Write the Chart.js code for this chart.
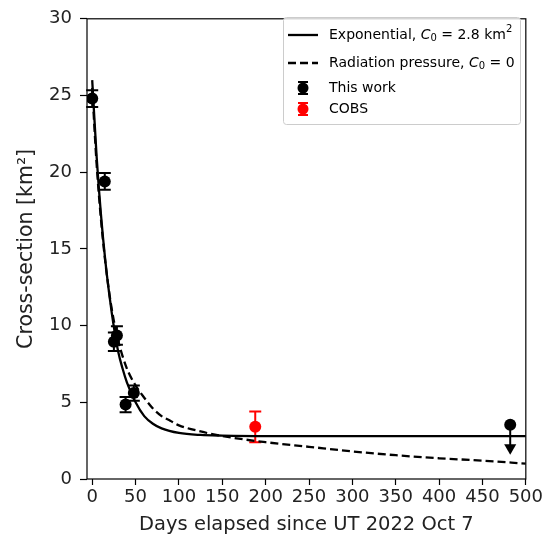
<!DOCTYPE html>
<html>
<head>
<meta charset="utf-8">
<script src="https://cdn.jsdelivr.net/npm/chart.js@4.4.0/dist/chart.umd.min.js"></script>
<style>
body { margin: 0; background: #fff; }
</style>
</head>
<body>
<canvas id="chart" width="545" height="540"></canvas>
<script>
// fitted curves
const expDays = [0, 5, 10, 15, 20, 25, 30, 35, 40, 50, 60, 70, 80, 100, 125, 150, 200, 250, 300, 350, 400, 450, 500];
const expValues = [26.0, 21.1, 17.3, 14.3, 11.9, 9.9, 8.3, 7.2, 6.3, 5.0, 4.1, 3.6, 3.3, 3.0, 2.87, 2.83, 2.8, 2.8, 2.8, 2.8, 2.8, 2.8, 2.8];
const radDays = [0, 5, 10, 15, 20, 25, 30, 40, 50, 60, 70, 80, 90, 100, 125, 150, 200, 250, 300, 350, 400, 450, 500];
const radValues = [25.5, 20.6, 17.0, 14.2, 12.0, 10.3, 9.0, 7.2, 6.1, 5.3, 4.6, 4.1, 3.8, 3.5, 3.1, 2.8, 2.4, 2.1, 1.8, 1.55, 1.35, 1.2, 1.0];

// measurements
const thisWorkDays = [0, 14.5, 25, 28.5, 38.5, 48];
const thisWorkValues = [24.8, 19.4, 8.95, 9.35, 4.85, 5.6];
const thisWorkErrors = [0.55, 0.55, 0.6, 0.6, 0.5, 0.5];
const cobsDays = [188];
const cobsValues = [3.4];
const cobsErrors = [1.0];
const limitDays = [482];
const limitValues = [3.53];
const limitArrow = [1.5];

const xTicks = [0, 50, 100, 150, 200, 250, 300, 350, 400, 450, 500];
const yTicks = [0, 5, 10, 15, 20, 25, 30];

const legendLabels = [
    [{ t: "Exponential, " }, { t: "C", it: true }, { t: "0", sub: true }, { t: " = 2.8 km" }, { t: "2", sup: true }],
    [{ t: "Radiation pressure, " }, { t: "C", it: true }, { t: "0", sub: true }, { t: " = 0" }],
    [{ t: "This work" }],
    [{ t: "COBS" }]
];

const FONT = "DejaVu Sans";

function toPoints(xs, ys) {
    return xs.map((x, i) => ({ x, y: ys[i] }));
}

// error bars through the chart scales
const errorBars = {
    id: "errorBars",
    beforeDatasetsDraw(chart) {
        const ctx = chart.ctx;
        const xs = chart.scales.x, ys = chart.scales.y;
        const bar = (x, y, e, color) => {
            const px = xs.getPixelForValue(x);
            const top = ys.getPixelForValue(y + e);
            const bot = ys.getPixelForValue(y - e);
            ctx.strokeStyle = color;
            ctx.lineWidth = 2;
            ctx.beginPath();
            ctx.moveTo(px, top); ctx.lineTo(px, bot);
            ctx.moveTo(px - 6, top); ctx.lineTo(px + 6, top);
            ctx.moveTo(px - 6, bot); ctx.lineTo(px + 6, bot);
            ctx.stroke();
        };
        ctx.save();
        thisWorkDays.forEach((d, i) => bar(d, thisWorkValues[i], thisWorkErrors[i], "#000"));
        cobsDays.forEach((d, i) => bar(d, cobsValues[i], cobsErrors[i], "#ff0000"));
        limitDays.forEach((d, i) => {
            const px = xs.getPixelForValue(d);
            ctx.strokeStyle = "#000";
            ctx.lineWidth = 2;
            ctx.beginPath();
            ctx.moveTo(px, ys.getPixelForValue(limitValues[i]));
            ctx.lineTo(px, ys.getPixelForValue(limitValues[i] - limitArrow[i]));
            ctx.stroke();
        });
        ctx.restore();
    }
};

const frame = {
    id: "frame",
    afterDatasetsDraw(chart) {
        const a = chart.chartArea;
        const ctx = chart.ctx;
        ctx.save();
        ctx.strokeStyle = "#000";
        ctx.lineWidth = 1.2;
        ctx.strokeRect(a.left, a.top, a.right - a.left, a.bottom - a.top);
        ctx.restore();
    }
};

function drawRich(ctx, x, y, parts) {
    let cx = x;
    parts.forEach(p => {
        let size = 14, dy = 0, style = "";
        if (p.sub) { size = 10; dy = 3; }
        if (p.sup) { size = 10; dy = -6; }
        if (p.it) style = "italic ";
        ctx.font = style + size + "px '" + FONT + "'";
        ctx.fillText(p.t, cx, y + dy);
        cx += ctx.measureText(p.t).width;
    });
}

const boxLegend = {
    id: "boxLegend",
    afterDraw(chart) {
        const ctx = chart.ctx;
        const x0 = 283.5, y0 = 17.5, w = 237, h = 107;
        const rows = [35, 63, 88, 109];
        ctx.save();
        ctx.fillStyle = "rgba(255,255,255,0.8)";
        ctx.strokeStyle = "#cccccc";
        ctx.lineWidth = 1;
        ctx.beginPath();
        ctx.roundRect(x0, y0, w, h, 3);
        ctx.fill();
        ctx.stroke();

        ctx.textBaseline = "middle";
        ctx.fillStyle = "#000";
        legendLabels.forEach((parts, i) => {
            const y = rows[i];
            const ds = chart.data.datasets[i];
            ctx.strokeStyle = ds.borderColor;
            ctx.lineWidth = 2.3;
            if (i < 2) {
                ctx.setLineDash(ds.borderDash || []);
                ctx.beginPath();
                ctx.moveTo(288, y); ctx.lineTo(318, y);
                ctx.stroke();
                ctx.setLineDash([]);
            } else {
                ctx.lineWidth = 2;
                ctx.beginPath();
                ctx.moveTo(303, y - 6); ctx.lineTo(303, y + 6);
                ctx.moveTo(298, y - 6); ctx.lineTo(308, y - 6);
                ctx.moveTo(298, y + 6); ctx.lineTo(308, y + 6);
                ctx.stroke();
                ctx.fillStyle = ds.backgroundColor;
                ctx.beginPath();
                ctx.arc(303, y, 5.5, 0, Math.PI * 2);
                ctx.fill();
            }
            ctx.fillStyle = "#000";
            drawRich(ctx, 329, y, parts);
        });
        ctx.restore();
    }
};

new Chart(document.getElementById("chart"), {
    type: "scatter",
    data: {
        datasets: [
            {
                label: "Exponential",
                type: "line",
                data: toPoints(expDays, expValues),
                borderColor: "#000",
                borderWidth: 2.3,
                pointRadius: 0,
                cubicInterpolationMode: "monotone",
                order: 5
            },
            {
                label: "Radiation pressure",
                type: "line",
                data: toPoints(radDays, radValues),
                borderColor: "#000",
                borderWidth: 2.3,
                borderDash: [8, 4],
                pointRadius: 0,
                cubicInterpolationMode: "monotone",
                order: 4
            },
            {
                label: "This work",
                data: toPoints(thisWorkDays, thisWorkValues).concat(toPoints(limitDays, limitValues)),
                backgroundColor: "#000",
                borderColor: "#000",
                pointRadius: 6,
                borderWidth: 0,
                order: 1
            },
            {
                label: "COBS",
                data: toPoints(cobsDays, cobsValues),
                backgroundColor: "#ff0000",
                borderColor: "#ff0000",
                pointRadius: 6,
                borderWidth: 0,
                order: 1
            },
            {
                label: "limit arrow",
                data: toPoints(limitDays, limitValues.map((v, i) => v - limitArrow[i])),
                pointStyle: "triangle",
                rotation: 180,
                backgroundColor: "#000",
                borderColor: "#000",
                pointRadius: 7,
                borderWidth: 0,
                order: 2
            }
        ]
    },
    options: {
        responsive: false,
        animation: false,
        layout: { padding: { top: 12, right: 17, left: 0, bottom: 0 } },
        plugins: {
            legend: { display: false },
            tooltip: { enabled: false }
        },
        scales: {
            x: {
                type: "linear",
                min: -6,
                max: 500,
                afterFit: s => { s.height = 61; },
                afterBuildTicks: s => { s.ticks = xTicks.map(v => ({ value: v })); },
                border: { display: false },
                grid: { drawOnChartArea: false, drawTicks: true, tickLength: 6, color: "#000", tickWidth: 1.2 },
                ticks: { color: "#222", font: { family: FONT, size: 18 }, padding: 2, maxRotation: 0, autoSkip: false },
                title: { display: true, text: "Days elapsed since UT 2022 Oct 7", color: "#222", font: { family: FONT, size: 19.5 }, padding: { top: 0, bottom: 3 } }
            },
            y: {
                min: 0,
                max: 30,
                afterFit: s => { s.width = 87; },
                afterBuildTicks: s => { s.ticks = yTicks.map(v => ({ value: v })); },
                border: { display: false },
                grid: { drawOnChartArea: false, drawTicks: true, tickLength: 7, color: "#000", tickWidth: 1.2 },
                ticks: { color: "#222", font: { family: FONT, size: 18 }, padding: 8 },
                title: { display: true, text: "Cross-section [km²]", color: "#222", font: { family: FONT, size: 20.5 }, padding: { top: 14, bottom: 0 } }
            }
        }
    },
    plugins: [errorBars, frame, boxLegend]
});
</script>
</body>
</html>
